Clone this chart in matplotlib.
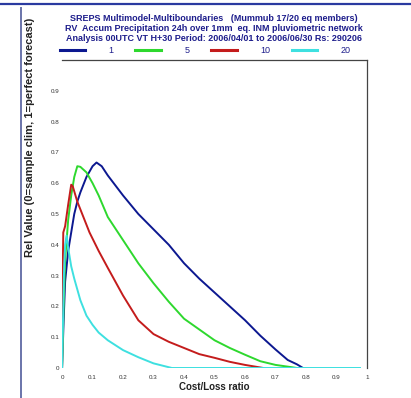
import matplotlib
matplotlib.use('Agg')
import matplotlib.pyplot as plt
from matplotlib.lines import Line2D

# Relative value curves, one per ensemble size
members = ['1', '5', '10', '20']
colors = ['#0c1890', '#2ed82e', '#c41c1c', '#3ee0e0']

x_1 = [0.0, 0.005, 0.01, 0.02, 0.03, 0.04, 0.05, 0.06, 0.08, 0.10, 0.113, 0.13, 0.15,
       0.20, 0.25, 0.30, 0.35, 0.40, 0.45, 0.50, 0.55, 0.60, 0.65, 0.70, 0.74, 0.77, 0.79]
v_1 = [0.0, 0.15, 0.28, 0.38, 0.44, 0.50, 0.54, 0.57, 0.62, 0.655, 0.667, 0.655, 0.625,
       0.56, 0.50, 0.45, 0.40, 0.34, 0.29, 0.245, 0.20, 0.155, 0.105, 0.06, 0.026, 0.012, 0.0]

x_5 = [0.0, 0.005, 0.01, 0.02, 0.03, 0.04, 0.05, 0.06, 0.08, 0.10, 0.12, 0.15, 0.20,
       0.25, 0.30, 0.35, 0.40, 0.45, 0.50, 0.55, 0.60, 0.65, 0.70, 0.75, 0.77]
v_5 = [0.0, 0.20, 0.35, 0.48, 0.56, 0.62, 0.655, 0.653, 0.635, 0.60, 0.56, 0.49, 0.415,
       0.34, 0.275, 0.215, 0.16, 0.125, 0.09, 0.065, 0.043, 0.022, 0.01, 0.003, 0.0]

x_10 = [0.0, 0.002, 0.004, 0.01, 0.02, 0.03, 0.035, 0.05, 0.07, 0.09, 0.12, 0.15, 0.20,
        0.25, 0.30, 0.35, 0.40, 0.45, 0.50, 0.55, 0.60, 0.66]
v_10 = [0.0, 0.30, 0.44, 0.46, 0.53, 0.595, 0.59, 0.54, 0.49, 0.44, 0.38, 0.325, 0.235,
        0.155, 0.11, 0.085, 0.065, 0.045, 0.033, 0.02, 0.01, 0.0]

x_20 = [0.0, 0.003, 0.006, 0.01, 0.015, 0.02, 0.03, 0.04, 0.06, 0.08, 0.10, 0.12, 0.15,
        0.20, 0.25, 0.30, 0.34, 0.36, 0.977]
v_20 = [0.0, 0.15, 0.30, 0.40, 0.43, 0.39, 0.33, 0.29, 0.22, 0.17, 0.14, 0.115, 0.09,
        0.058, 0.035, 0.015, 0.005, 0.0, 0.0]

xs = [x_1, x_5, x_10, x_20]
vs = [v_1, v_5, v_10, v_20]

xticks = [0, 0.1, 0.2, 0.3, 0.4, 0.5, 0.6, 0.7, 0.8, 0.9, 1]
xtick_labels = ['0', '0.1', '0.2', '0.3', '0.4', '0.5', '0.6', '0.7', '0.8', '0.9', '1']
yticks = [0, 0.1, 0.2, 0.3, 0.4, 0.5, 0.6, 0.7, 0.8, 0.9]
ytick_labels = ['0', '0.1', '0.2', '0.3', '0.4', '0.5', '0.6', '0.7', '0.8', '0.9']

title_lines = [
    'SREPS Multimodel-Multiboundaries   (Mummub 17/20 eq members)',
    'RV  Accum Precipitation 24h over 1mm  eq. INM pluviometric network',
    'Analysis 00UTC VT H+30 Period: 2006/04/01 to 2006/06/30 Rs: 290206',
]

plt.rcParams['font.family'] = ['Liberation Sans', 'DejaVu Sans']

fig = plt.figure(figsize=(4.11, 3.98), dpi=100)
fig.patch.set_facecolor('white')

# page decoration: blue rule at top and at the left
fig.add_artist(Line2D([0, 1], [0.991, 0.991], color='#2a3aa0', lw=1.6))
fig.add_artist(Line2D([0.052, 0.052], [0.0, 0.98], color='#6a74aa', lw=1.4))

ax = fig.add_axes([0.151, 0.0754, 0.742, 0.774])
for x, v, c, m in zip(xs, vs, colors, members):
    ax.plot(x, v, color=c, lw=1.4, label=m, solid_joinstyle='round')

ax.set_xlim(0, 1)
ax.set_ylim(0, 1)
ax.set_xticks(xticks)
ax.set_xticklabels(xtick_labels)
ax.set_yticks(yticks)
ax.set_yticklabels(ytick_labels)
ax.tick_params(length=0, labelsize=4.5, colors='#333333')
ax.tick_params(axis='x', pad=5)
ax.tick_params(axis='y', pad=2)
ax.spines['left'].set_visible(False)
ax.spines['bottom'].set_visible(False)
ax.spines['top'].set_color('#444444')
ax.spines['right'].set_color('#444444')
ax.spines['top'].set_linewidth(0.9)
ax.spines['right'].set_linewidth(0.9)

ax.set_xlabel('Cost/Loss ratio', fontsize=7, fontweight='bold', color='#222222', labelpad=1.5)
fig.text(0.072, 0.355, 'Rel Value (0=sample clim, 1=perfect forecast)', rotation=90,
         ha='center', va='bottom', fontsize=8, fontweight='bold', color='#222222')

for i, line in enumerate(title_lines):
    fig.text(0.52, 0.953 - i * 0.025, line, ha='center', va='center',
             fontsize=6.5, fontweight='bold', color='#1e1e8c')

leg = ax.legend(loc='lower left', bbox_to_anchor=(-0.017, 1.008), ncol=4, frameon=False,
                fontsize=6.5, handlelength=2.8, handletextpad=2.6, columnspacing=2.45,
                borderaxespad=0.2, borderpad=0.1)
for t in leg.get_texts():
    t.set_color('#1e1e8c')
for h in leg.get_lines():
    h.set_linewidth(2.2)

fig.savefig('out.png', dpi=100)
